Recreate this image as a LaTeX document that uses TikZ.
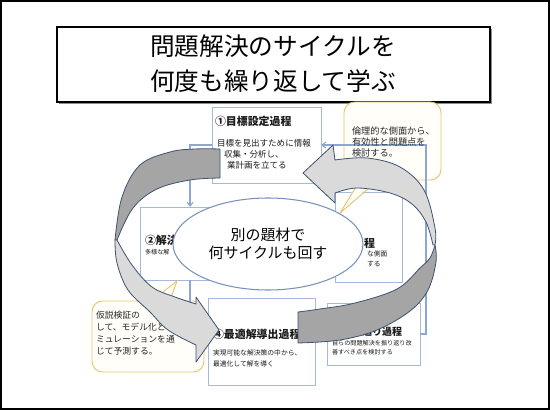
\documentclass[tikz,border=0pt]{standalone}
\usepackage{fontspec}
\newfontfamily\jp{Noto Sans CJK JP}
\usetikzlibrary{arrows.meta,shapes.geometric,fit}
\definecolor{boxline}{HTML}{A4BADC}
\definecolor{connline}{HTML}{8DA7D2}
\definecolor{ellline}{HTML}{7A92BA}
\definecolor{callline}{HTML}{E6C56C}
\definecolor{callfill}{HTML}{FFFEF9}
\definecolor{arrline}{HTML}{3E5170}
\definecolor{darkg}{HTML}{A5A5A5}
\definecolor{lightg}{HTML}{DADADA}
\definecolor{txt}{HTML}{1A1A1A}
\begin{document}
\begin{tikzpicture}[x=0.75pt,y=-0.75pt,
  every node/.style={inner sep=0pt, outer sep=0pt, font=\jp, text=txt},
  procbox/.style={draw=boxline, fill=white, line width=0.7pt},
  callbox/.style={draw=callline, fill=callfill, line width=0.7pt, rounded corners=8pt},
  conn/.style={draw=connline, line width=0.8pt},
  conntip/.style={conn, -{Straight Barb[length=3pt,width=4.5pt]}},
  ribbon/.style={draw=arrline, line width=0.6pt, line join=round},
  btitle/.style={font=\jp\bfseries\fontsize{8.2}{10}\selectfont, anchor=west},
  bodyA/.style={font=\jp\fontsize{6.4}{8}\selectfont, anchor=west},
  bodyB/.style={font=\jp\fontsize{5.1}{7}\selectfont, anchor=west},
  bodyC/.style={font=\jp\fontsize{4.6}{6}\selectfont, anchor=west},
  calltext/.style={font=\jp\fontsize{6.9}{8.25}\selectfont, anchor=west, align=left, text=black!85}
]
\useasboundingbox (0,0) rectangle (550,410);
\draw[line width=1.5pt] (1,1) rectangle (549,409);

% title
\fill[black!45] (59,29) rectangle (492,104);
\node[draw=black, line width=1.1pt, fill=white, fit={(57,27) (490,102)}] (title) {};
\node[font=\jp\fontsize{18.5}{26.2}\selectfont, align=center, text=black] (titletext) at (273,64) {問題解決のサイクルを\\何度も繰り返して学ぶ};

% process boxes
\node[procbox, fit={(212,107) (321,183)}] (b1) {};
\node[procbox, fit={(140,207) (240,280)}] (b2) {};
\node[procbox, fit={(335,192) (402,282)}] (b3) {};
\node[procbox, fit={(208,298) (315,385)}] (b4) {};
\node[procbox, fit={(327,303) (420,365)}] (b5) {};

% callouts
\node[callbox, fit={(344,102) (441,180)}] (c1) {};
\fill[callfill] (360,178) -- (340,213) -- (378,178) -- cycle;
\draw[callline, line width=0.7pt] (360,180.5) -- (340,213) -- (378,180.5);
\node[callbox, fit={(92,301) (204,372)}] (c2) {};
\fill[callfill] (152,303) -- (177,281) -- (170,303) -- cycle;
\draw[callline, line width=0.7pt] (152,300.5) -- (177,281) -- (170,300.5);

% connectors
\draw[conntip] (b1.west) -| ([xshift=37.5pt]b2.north west);
\draw[conntip] (b5.east) -- ++(6,0) |- (b1.east);
\draw[conntip] ([xshift=37.5pt]b2.south west) |- (b4.west);

% texts in boxes
\node[btitle] (t1) at (215,121) {①目標設定過程};
\node[bodyA] (t1a) at (217,143) {目標を見出すために情報};
\node[bodyA] (t1b) at (224,154.5) {収集・分析し、};
\node[bodyA] (t1c) at (227,165.5) {業計画を立てる};

\node[btitle] (t2) at (145,240) {②解決};
\node[bodyC] (t2a) at (145,252) {多様な解};

\node[btitle] (t3) at (364,243) {程};
\node[bodyB] (t3a) at (367,254) {な側面};
\node[bodyB] (t3b) at (367,264) {する};

\node[btitle] (t4) at (213,334) {④最適解導出過程};
\node[bodyB] (t4a) at (213,353) {実現可能な解決策の中から、};
\node[bodyB] (t4b) at (213,364) {最適化して解を導く};

\node[font=\jp\bfseries\fontsize{7.5}{9}\selectfont, anchor=west] (t5) at (332,332) {⑤振り返り過程};
\node[bodyC] (t5a) at (332,343) {自らの問題解決を振り返り改};
\node[bodyC] (t5b) at (332,352) {善すべき点を検討する};

\node[calltext] (ct1) at (352,142) {倫理的な側面から、\\有効性と問題点を\\検討する。};
\node[calltext, font=\jp\fontsize{6.6}{9}\selectfont] (ct2) at (96,333.5) {仮説検証の\\して、モデル化と\\ミュレーションを通\\じて予測する。};

% ellipse
\node[ellipse, draw=ellline, fill=white, line width=0.8pt, minimum width=142.5pt, minimum height=69pt,
      font=\jp\fontsize{11.2}{13.5}\selectfont, align=center, text=black] (ell) at (268,244) {別の題材で\\何サイクルも回す};

% left ribbon arrow
\filldraw[ribbon, fill=darkg]
  plot[smooth, tension=0.6] coordinates {(220,149) (195,149) (170,152) (140,165) (122,197) (115,240)}
  -- plot[smooth, tension=0.6] coordinates {(117,240) (133,208) (157,189) (190,180) (220,178)} -- cycle;
\filldraw[ribbon, fill=lightg]
  plot[smooth, tension=0.6] coordinates {(115,240) (117,263) (128,290) (150,312) (168,330) (196,345)}
  -- (196,362) -- (219,330) -- (196,297) -- (196,304)
  -- plot[smooth, tension=0.6] coordinates {(196,304) (175,297) (152,287) (132,265) (117,240)} -- cycle;

% right ribbon arrow
\filldraw[ribbon, fill=lightg]
  plot[smooth, tension=0.6] coordinates {(335,160) (367,158) (400,167) (424,190) (435,228) (435,245)}
  -- plot[smooth, tension=0.6] coordinates {(433,245) (426,222) (412,204) (390,193) (357,188) (335,193)}
  -- (335,203) -- (303,173) -- (333,145) -- cycle;
\filldraw[ribbon, fill=darkg]
  plot[smooth, tension=0.6] coordinates {(435,245) (430,258) (420,268) (397,289) (355,303) (320,309) (298,312)}
  -- (298,343)
  -- plot[smooth, tension=0.6] coordinates {(298,343) (340,340) (377,330) (410,311) (428,290) (436,262) (435,245)} -- cycle;
\end{tikzpicture}
\end{document}
